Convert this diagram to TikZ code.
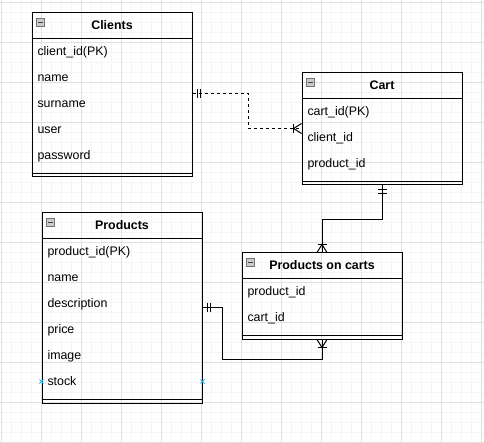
\documentclass[tikz,border=0pt]{standalone}
\usepackage{fontspec}
\setmainfont{Liberation Sans}
\usetikzlibrary{calc, positioning}
\definecolor{gridMinor}{gray}{0.96}
\definecolor{gridMajor}{gray}{0.88}
\definecolor{iconGray}{gray}{0.80}
\definecolor{iconEdge}{gray}{0.45}
\definecolor{pointBlue}{RGB}{41,182,242}

\begin{document}
\begin{tikzpicture}[x=1pt, y=-1pt, line width=1pt,
        tbl/.style={draw, rectangle, inner sep=0pt, minimum width=160pt, anchor=north west},
        hdr/.style={font=\bfseries\fontsize{12.4}{14}\selectfont, inner sep=0pt, text height=9pt, text depth=3pt},
        fld/.style={font=\fontsize{12.4}{14}\selectfont, anchor=west, inner sep=0pt, text height=9pt, text depth=3pt}]

    \useasboundingbox (0,0) rectangle (484,443);
    \fill[white] (0,0) rectangle (484,443);
    % background grid
    \foreach \gx in {0,10,...,480} \draw[gridMinor, line width=0.8pt] (\gx+1,0) -- (\gx+1,443);
    \foreach \gy in {0,10,...,440} \draw[gridMinor, line width=0.8pt] (0,\gy+2.7) -- (484,\gy+2.7);
    \foreach \gx in {0,40,...,480} \draw[gridMajor, line width=0.8pt] (\gx+1,0) -- (\gx+1,443);
    \foreach \gy in {0,40,...,440} \draw[gridMajor, line width=0.8pt] (0,\gy+2.7) -- (484,\gy+2.7);

    % tables
    \foreach \nm/\tx/\ty/\n/\ttl/\flds in {
            clients/31.5/12.5/5/Clients/{client\_id(PK),name,surname,user,password},
            cart/301.5/72.5/3/Cart/{cart\_id(PK),client\_id,product\_id},
            products/41.5/212.5/6/Products/{product\_id(PK),name,description,price,image,stock},
            poc/241.5/252.5/2/Products on carts/{product\_id,cart\_id}} {
        \pgfmathsetmacro{\h}{26*(\n+1)+8}
        \node[tbl, minimum height=\h pt] (\nm) at (\tx,\ty) {};
        \draw (\nm.north west) ++(0,26) -- ++(160,0);
        \draw (\nm.south west) ++(0,-4) -- ++(160,0);
        \draw[iconEdge, fill=iconGray, line width=0.6pt] ([shift={(4.5pt,-6pt)}]\nm.north west) rectangle ++(8.5,7.5);
        \draw[black!75, line width=0.8pt] ([shift={(6.5pt,-9.75pt)}]\nm.north west) -- ++(4.5,0);
        \node[hdr] (\nm-title) at ([yshift=-14.3pt]\nm.north) {\ttl};
        \foreach \f [count=\i] in \flds {
            \pgfmathsetmacro{\fy}{26*\i+14.3}
            \node[fld] (\nm-\i) at ([shift={(5.5pt,-\fy pt)}]\nm.north west) {\f};
        }
    }

    % Clients -- Cart
    \coordinate (c1a) at ([yshift=-81.5pt]clients.north east);
    \coordinate (c1b) at ([yshift=-56pt]cart.north west);
    \draw[dash pattern=on 3pt off 3pt] (c1a) -- ++(55.5,0) |- (c1b);
    \draw ([xshift=4.5pt]c1a) ++(0,-4.5) -- ++(0,9);
    \draw ([xshift=8pt]c1a) ++(0,-4.5) -- ++(0,9);
    \draw ([xshift=-8pt]c1b) ++(0,-4.5) -- ++(0,9);
    \draw ([yshift=5pt]c1b) -- ([xshift=-8pt]c1b) -- ([yshift=-5pt]c1b);

    % Cart -- Products on carts
    \draw (cart.south) -- ++(0,34.5) -| (poc.north);
    \draw ([yshift=-4pt]cart.south) ++(-4.5,0) -- ++(9,0);
    \draw ([yshift=-8pt]cart.south) ++(-4.5,0) -- ++(9,0);
    \draw ([yshift=8pt]poc.north) ++(-4.5,0) -- ++(9,0);
    \draw ([xshift=-5pt]poc.north) -- ([yshift=8pt]poc.north) -- ([xshift=5pt]poc.north);

    % Products -- Products on carts
    \coordinate (c3a) at ([yshift=-94.8pt]products.north east);
    \coordinate (c3b) at ([yshift=-20pt]poc.south);
    \draw (c3a) -- ++(19.5,0) |- (c3b) -- (poc.south);
    \draw ([xshift=4.5pt]c3a) ++(0,-4.5) -- ++(0,9);
    \draw ([xshift=8pt]c3a) ++(0,-4.5) -- ++(0,9);
    \draw ([yshift=-8pt]poc.south) ++(-4.5,0) -- ++(9,0);
    \draw ([xshift=-5pt]poc.south) -- ([yshift=-8pt]poc.south) -- ([xshift=5pt]poc.south);

    % connection points on stock
    \foreach \p in {north west, north east} {
        \draw[pointBlue, line width=0.8pt] ([yshift=-169pt]products.\p) ++(-2,-2) -- ++(4,4) ++(0,-4) -- ++(-4,4);
    }
\end{tikzpicture}
\end{document}
